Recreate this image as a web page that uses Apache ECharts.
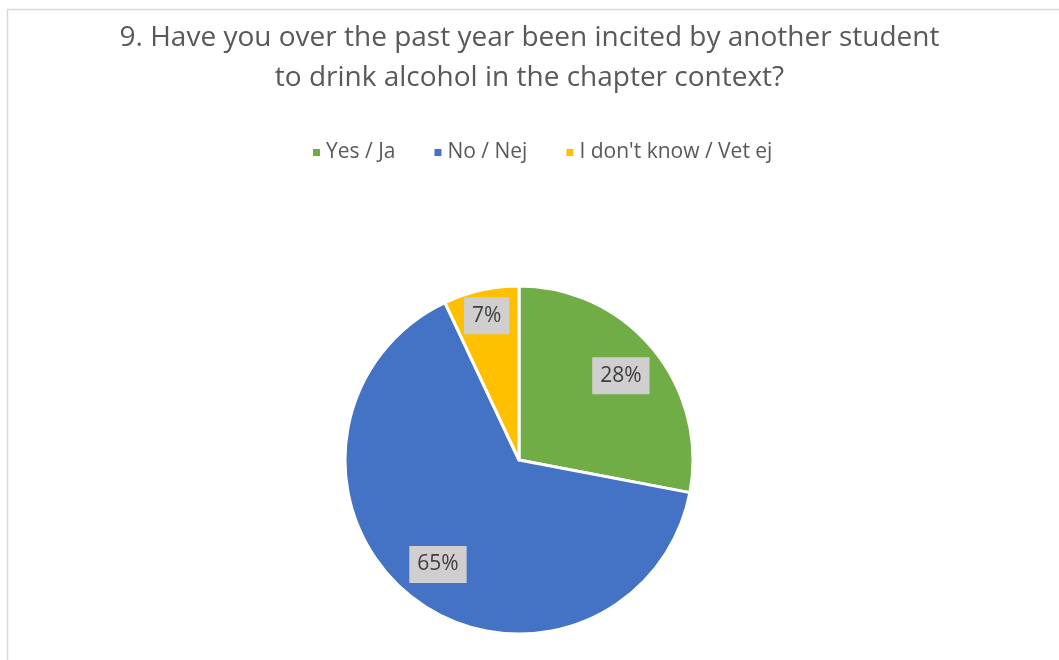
<!DOCTYPE html>
<html>
<head>
<meta charset="utf-8">
<script src="https://cdn.jsdelivr.net/npm/echarts@6/dist/echarts.min.js"></script>
<style>
  html, body { margin: 0; padding: 0; background: #ffffff; }
  #chart { width: 1059px; height: 660px; }
</style>
</head>
<body>
<div id="chart"></div>
<script>
// Survey question 9: share of answers per option
const titleText = '9. Have you over the past year been incited by another student\nto drink alcohol in the chapter context?';
const categories = ['Yes / Ja', 'No / Nej', "I don't know / Vet ej"];
const percentages = [28, 65, 7];
const sliceColors = ['#70AD47', '#4472C4', '#FFC000'];

const CX = 519, CY = 460, R = 174;
// distance of each value label from the centre, as a share of the radius
const labelRadius = [0.76, 0.76, 0.85];

const chart = echarts.init(document.getElementById('chart'), null, { renderer: 'canvas' });

chart.setOption({
  backgroundColor: '#ffffff',
  animation: false,
  color: sliceColors,
  graphic: [{
    type: 'rect',
    shape: { x: 7.5, y: 9.5, width: 1100, height: 700 },
    style: { fill: 'none', stroke: '#d9d9d9', lineWidth: 1.5 },
    silent: true
  }],
  title: {
    text: titleText,
    left: 'center',
    top: 13,
    textStyle: {
      fontFamily: 'Open Sans',
      fontSize: 28,
      fontWeight: 'normal',
      color: '#595959',
      lineHeight: 40
    }
  },
  legend: {
    data: categories,
    left: 306,
    top: 137,
    icon: 'rect',
    itemWidth: 9,
    itemHeight: 9,
    itemGap: 37,
    textStyle: {
      fontFamily: 'Open Sans',
      fontSize: 21,
      color: '#595959'
    }
  },
  series: [{
    type: 'pie',
    center: [CX, CY],
    radius: R,
    startAngle: 90,
    clockwise: true,
    silent: true,
    data: categories.map((name, i) => ({ name: name, value: percentages[i] })),
    itemStyle: { borderColor: '#ffffff', borderWidth: 3 },
    label: {
      show: true,
      position: 'inside',
      formatter: p => p.value + '%',
      fontFamily: 'Open Sans',
      fontSize: 21,
      color: '#404040',
      backgroundColor: '#D0CECE',
      padding: [9, 8, 7, 8]
    },
    labelLine: { show: false },
    labelLayout: function (p) {
      const lx = p.labelRect.x + p.labelRect.width / 2;
      const ly = p.labelRect.y + p.labelRect.height / 2;
      const dx = lx - CX, dy = ly - CY;
      const len = Math.sqrt(dx * dx + dy * dy) || 1;
      const r = labelRadius[p.dataIndex] * R;
      return { x: CX + dx / len * r, y: CY + dy / len * r };
    }
  }]
});
</script>
</body>
</html>
